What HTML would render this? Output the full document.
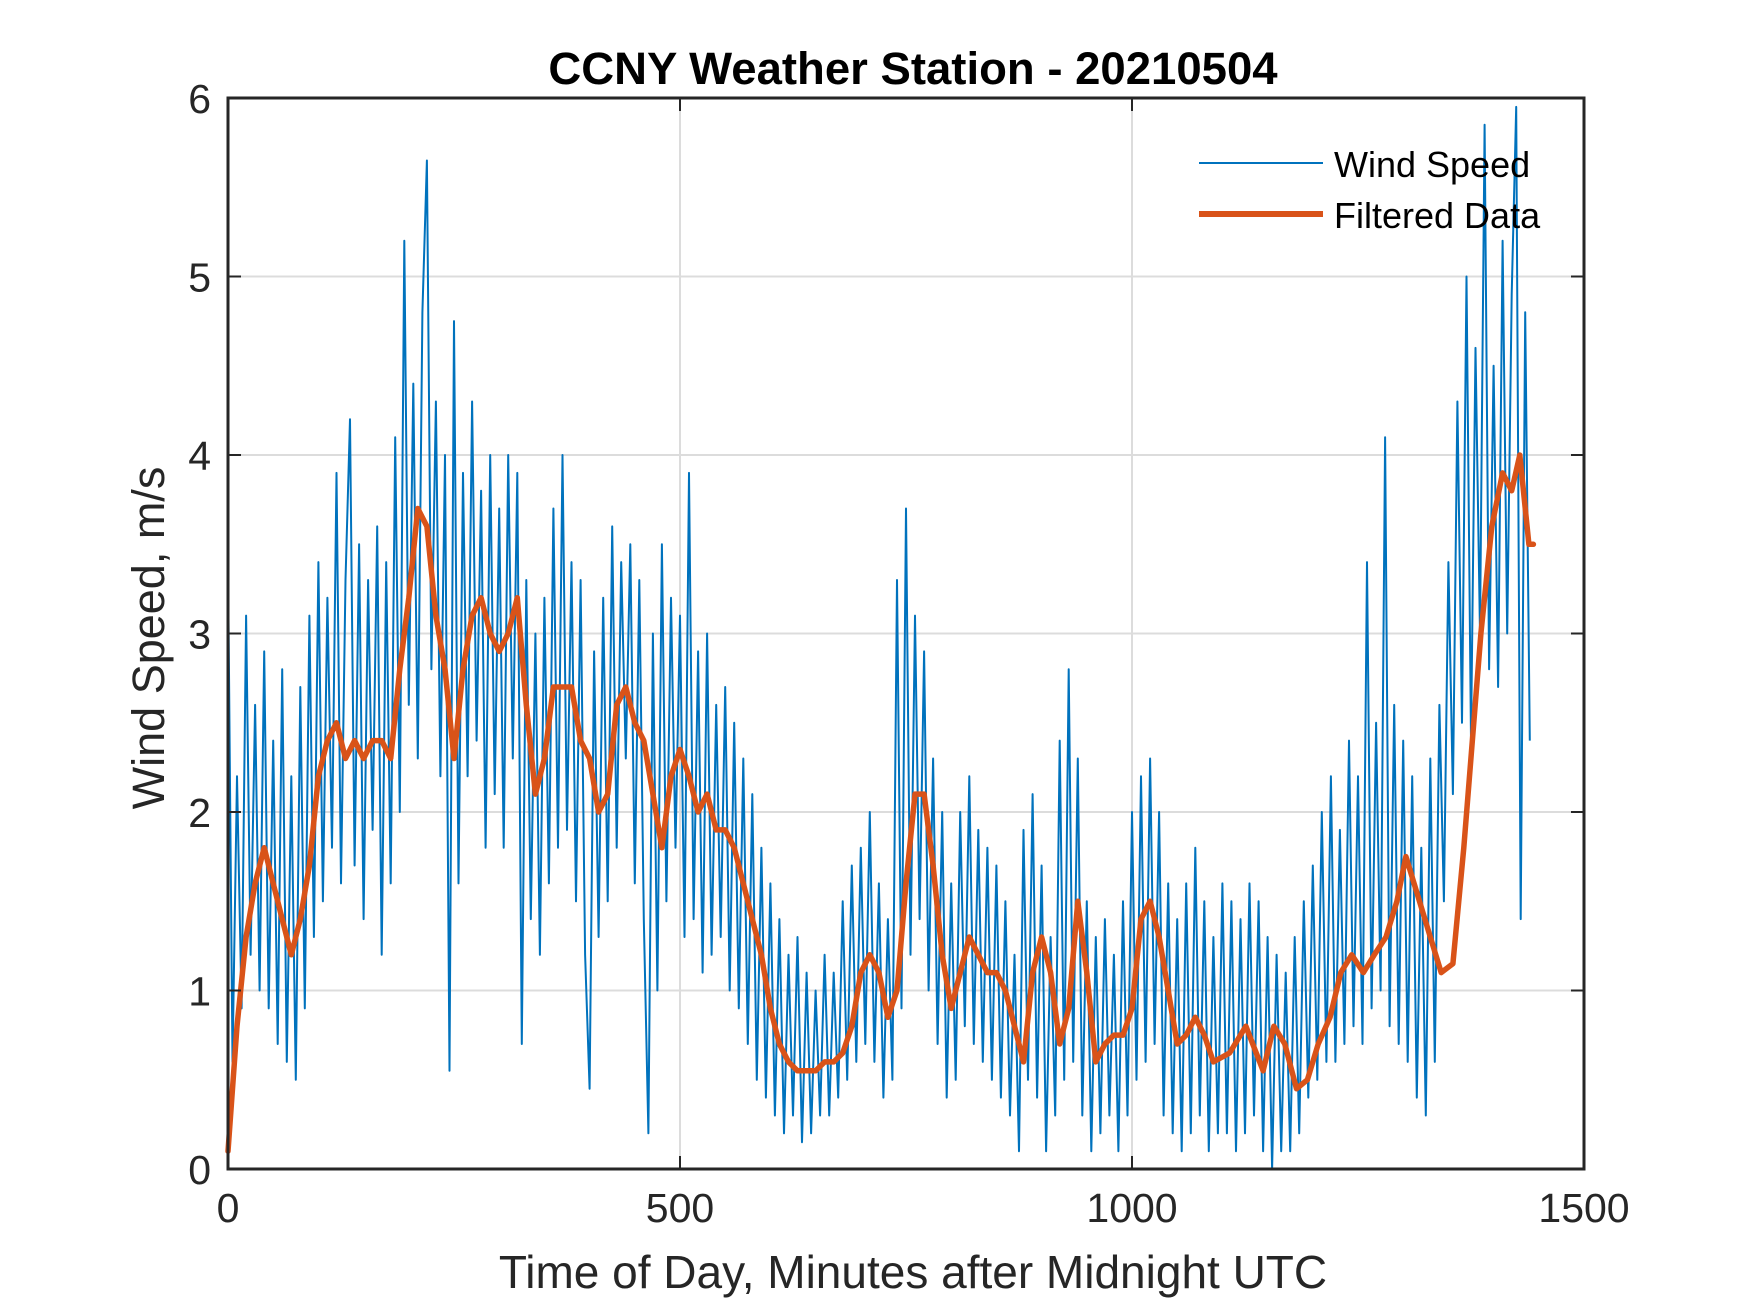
<!DOCTYPE html>
<html><head><meta charset="utf-8"><style>
html,body{margin:0;padding:0;background:#fff;}
svg{display:block;font-family:"Liberation Sans",Arial,sans-serif;}
</style></head><body>
<svg id="chart" width="1750" height="1313" viewBox="0 0 1750 1313" xmlns="http://www.w3.org/2000/svg">
<rect width="1750" height="1313" fill="#fff"/>
<g id="grid"></g>
<g id="series"></g>
<g id="axes"></g>
<text x="913" y="84" text-anchor="middle" font-size="45.5" font-weight="bold" fill="#000">CCNY Weather Station - 20210504</text>
<text x="913" y="1288" text-anchor="middle" font-size="46" fill="#262626">Time of Day, Minutes after Midnight UTC</text>
<text transform="translate(164,638) rotate(-90)" text-anchor="middle" font-size="45" fill="#262626">Wind Speed, m/s</text>
<g>
<line x1="1199" y1="163" x2="1323" y2="163" stroke="#0072BD" stroke-width="2"/>
<text x="1334" y="177" font-size="36" fill="#000">Wind Speed</text>
<line x1="1199" y1="214" x2="1323" y2="214" stroke="#D95319" stroke-width="6"/>
<text x="1334" y="228" font-size="36" fill="#000">Filtered Data</text>
</g>
</svg>
<script>
const xTicks=[0,500,1000,1500];
const yTicks=[0,1,2,3,4,5,6];
const rawStep=5;
const rawValues=[
3.4,0.6,2.2,0.9,3.1,1.2,2.6,1.0,2.9,0.9,
2.4,0.7,2.8,0.6,2.2,0.5,2.7,0.9,3.1,1.3,
3.4,1.5,3.2,1.8,3.9,1.6,3.3,4.2,1.7,3.5,
1.4,3.3,1.9,3.6,1.2,3.4,1.6,4.1,2.0,5.2,
2.6,4.4,2.3,4.8,5.65,2.8,4.3,2.2,4.0,0.55,
4.75,1.6,3.9,2.2,4.3,2.4,3.8,1.8,4.0,2.1,
3.7,1.8,4.0,2.3,3.9,0.7,3.3,1.4,3.0,1.2,
3.2,1.6,3.7,1.8,4.0,1.9,3.4,1.5,3.3,1.2,
0.45,2.9,1.3,3.2,1.5,3.6,1.8,3.4,2.3,3.5,
1.6,3.3,1.4,0.2,3.0,1.0,3.5,1.5,3.2,1.8,
3.1,1.3,3.9,1.4,2.9,1.1,3.0,1.2,2.6,1.3,
2.7,1.0,2.5,0.9,2.3,0.7,2.1,0.5,1.8,0.4,
1.6,0.3,1.4,0.2,1.2,0.3,1.3,0.15,1.1,0.2,
1.0,0.3,1.2,0.3,1.1,0.4,1.5,0.5,1.7,0.6,
1.8,0.7,2.0,0.6,1.6,0.4,1.4,0.5,3.3,0.9,
3.7,1.2,3.1,1.4,2.9,1.0,2.3,0.7,2.0,0.4,
1.6,0.5,2.0,0.8,2.2,0.7,1.9,0.6,1.8,0.5,
1.7,0.4,1.5,0.3,1.2,0.1,1.9,0.5,2.1,0.4,
1.7,0.1,1.3,0.3,2.4,0.5,2.8,0.6,2.3,0.3,
1.5,0.1,1.3,0.2,1.4,0.3,1.2,0.1,1.5,0.3,
2.0,0.5,2.2,0.6,2.3,0.7,2.0,0.3,1.6,0.2,
1.4,0.1,1.6,0.2,1.8,0.3,1.5,0.1,1.3,0.2,
1.6,0.2,1.5,0.1,1.4,0.2,1.6,0.3,1.5,0.1,
1.3,0.0,1.2,0.1,1.1,0.1,1.3,0.2,1.5,0.4,
1.7,0.5,2.0,0.6,2.2,0.6,1.9,0.7,2.4,0.8,
2.2,0.7,3.4,0.9,2.5,1.0,4.1,0.8,2.6,0.7,
2.4,0.6,2.2,0.4,1.8,0.3,2.3,0.6,2.6,1.5,
3.4,2.1,4.3,2.5,5.0,2.4,4.6,3.0,5.85,2.8,
4.5,2.7,5.2,3.0,4.9,5.95,1.4,4.8,2.4
];
const filtMinutes=[0,10,20,30,40,50,60,70,80,90,100,110,120,130,140,150,160,170,180,190,200,210,220,230,240,250,260,270,280,290,300,310,320,330,340,350,360,370,380,390,400,410,420,430,440,450,460,470,480,490,500,510,520,530,540,550,560,570,580,590,600,610,620,630,640,650,660,670,680,690,700,710,720,730,740,750,760,770,780,790,800,810,820,830,840,850,860,870,880,890,900,910,920,930,940,950,960,970,980,990,1000,1010,1020,1030,1040,1050,1060,1070,1080,1090,1108,1126,1145,1157,1169,1182,1194,1206,1219,1231,1243,1256,1268,1281,1293,1303,1318,1330,1342,1355,1367,1386,1398,1410,1420,1429,1439,1444];
const filtValues=[0.1,0.8,1.3,1.6,1.8,1.6,1.4,1.2,1.4,1.7,2.2,2.4,2.5,2.3,2.4,2.3,2.4,2.4,2.3,2.8,3.2,3.7,3.6,3.1,2.8,2.3,2.8,3.1,3.2,3.0,2.9,3.0,3.2,2.6,2.1,2.3,2.7,2.7,2.7,2.4,2.3,2.0,2.1,2.6,2.7,2.5,2.4,2.1,1.8,2.2,2.35,2.2,2.0,2.1,1.9,1.9,1.8,1.6,1.4,1.2,0.9,0.7,0.6,0.55,0.55,0.55,0.6,0.6,0.65,0.8,1.1,1.2,1.1,0.85,1.0,1.6,2.1,2.1,1.7,1.2,0.9,1.1,1.3,1.2,1.1,1.1,1.0,0.8,0.6,1.1,1.3,1.1,0.7,0.9,1.5,1.1,0.6,0.7,0.75,0.75,0.9,1.4,1.5,1.3,1.0,0.7,0.75,0.85,0.75,0.6,0.65,0.8,0.55,0.8,0.7,0.45,0.5,0.7,0.85,1.1,1.2,1.1,1.2,1.3,1.5,1.75,1.5,1.3,1.1,1.15,1.8,3.0,3.6,3.9,3.8,4.0,3.5,3.5];

const L=228,R=1584,T=98,B=1169;
const xs=v=>L+(v-0)/(1500-0)*(R-L);
const ys=v=>B-(v-0)/(6-0)*(B-T);
const NS='http://www.w3.org/2000/svg';
function mk(tag,attrs,parent){const e=document.createElementNS(NS,tag);for(const k in attrs)e.setAttribute(k,attrs[k]);parent.appendChild(e);return e;}
const grid=document.getElementById('grid'),axes=document.getElementById('axes'),series=document.getElementById('series');

xTicks.forEach(t=>{
  const g=mk('line',{x1:xs(t),x2:xs(t),y1:T,y2:B,stroke:'#dcdcdc','stroke-width':2},grid);
  
  
  const tk1=mk('line',{x1:xs(t),x2:xs(t),y1:B,y2:B-13,stroke:'#262626','stroke-width':2},axes);
  
  
  const tk2=mk('line',{x1:xs(t),x2:xs(t),y1:T,y2:T+13,stroke:'#262626','stroke-width':2},axes);
  
  
  const lb=mk('text',{x:xs(t),y:B+53,'text-anchor':'middle','font-size':41,fill:'#262626'},axes);
  lb.textContent=t;
  
  
});
yTicks.forEach(t=>{
  const g=mk('line',{x1:L,x2:R,y1:ys(t),y2:ys(t),stroke:'#dcdcdc','stroke-width':2},grid);
  
  
  const tk1=mk('line',{x1:L,x2:L+13,y1:ys(t),y2:ys(t),stroke:'#262626','stroke-width':2},axes);
  
  
  const tk2=mk('line',{x1:R,x2:R-13,y1:ys(t),y2:ys(t),stroke:'#262626','stroke-width':2},axes);
  
  
  const lb=mk('text',{x:L-17,y:ys(t)+15,'text-anchor':'end','font-size':41,fill:'#262626'},axes);
  lb.textContent=t;
  
  
});
const box=mk('rect',{x:L,y:T,width:R-L,height:B-T,fill:'none',stroke:'#262626','stroke-width':3},axes);



const rawPts=rawValues.map((v,i)=>xs(i*rawStep).toFixed(1)+','+ys(v).toFixed(1)).join(' ');
const raw=mk('polyline',{points:rawPts,fill:'none',stroke:'#0072BD','stroke-width':2,'stroke-linejoin':'round'},series);


const fPts=filtValues.map((v,i)=>xs(filtMinutes[i]).toFixed(1)+','+ys(v).toFixed(1)).join(' ');
const filt=mk('polyline',{points:fPts,fill:'none',stroke:'#D95319','stroke-width':5.5,'stroke-linejoin':'round','stroke-linecap':'round'},series);


</script>
</body></html>
